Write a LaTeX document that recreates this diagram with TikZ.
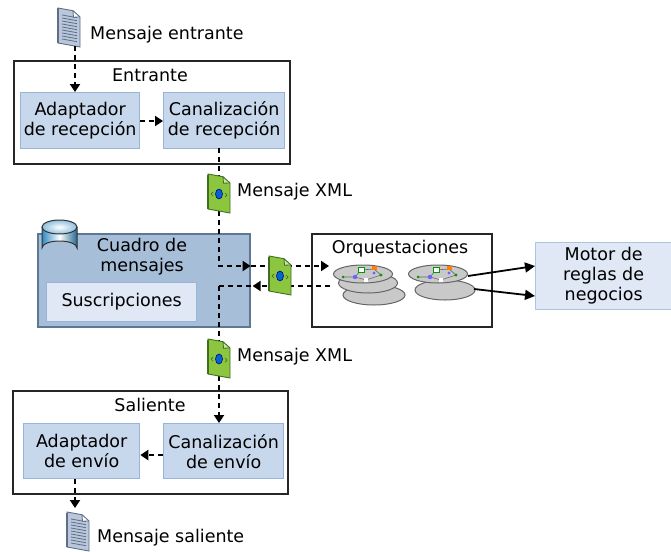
\documentclass[tikz,border=0pt]{standalone}
\usepackage{fontspec}
\setmainfont{DejaVu Sans}
\usetikzlibrary{arrows.meta,positioning}

\definecolor{partfill}{HTML}{C8D8EC}
\definecolor{partline}{HTML}{9AB3D9}
\definecolor{boxfill}{HTML}{A6BED8}
\definecolor{boxline}{HTML}{5C7896}
\definecolor{subfill}{HTML}{DFE8F4}
\definecolor{xmlgreen}{HTML}{8CC63E}
\definecolor{xmldark}{HTML}{3F6E22}
\definecolor{docblue}{HTML}{BAC7DA}
\definecolor{docline}{HTML}{5E6E88}
\definecolor{diskgray}{HTML}{C9C9C9}
\definecolor{cylblue}{HTML}{2E8BC5}

\tikzset{
  stage/.style={draw=black!85, line width=1.6pt, fill=white, anchor=north west, inner sep=0pt},
  part/.style={draw=partline, line width=1.3pt, fill=partfill, anchor=north west, inner sep=0pt, align=center},
  flow/.style={line width=2pt, dash pattern=on 5pt off 4pt, -{Triangle[length=8pt,width=10pt]}},
  flowline/.style={line width=2pt, dash pattern=on 5pt off 4pt},
  call/.style={line width=1.8pt, -{Triangle[length=10pt,width=10pt]}},
  disk/.style={draw=black!60, line width=1pt, fill=diskgray},
  % page icon, grey-blue with text lines
  pics/docpage/.style={code={
    \fill[docblue] (-11,-19) -- (4,-16.3) -- (11,-10) -- (11,20) -- (-11,16) -- cycle;
    \foreach \y in {-12,-9,...,12}
      \draw[docline, line width=0.8pt] (-7,\y) -- (8,\y+2.7);
    \fill[white] (4,-16.3) -- (4.5,-9.8) -- (11,-10) -- cycle;
    \draw[docline, line width=0.9pt] (-11,-19) -- (4,-16.3) -- (11,-10) -- (11,20) -- (-11,16) -- cycle;
    \draw[docline, line width=0.8pt] (4,-16.3) -- (4.5,-9.8) -- (11,-10);
    \draw[docline, line width=2pt] (-11,-18.5) -- (-11,16);
  }},
  % green XML page icon
  pics/xmlpage/.style={code={
    \fill[xmlgreen] (-11,-19) -- (4,-16.3) -- (11,-10) -- (11,20) -- (-11,16) -- cycle;
    \fill[xmlgreen!45!white] (4,-16.3) -- (4.5,-9.8) -- (11,-10) -- cycle;
    \draw[xmldark, line width=0.9pt] (-11,-19) -- (4,-16.3) -- (11,-10) -- (11,20) -- (-11,16) -- cycle;
    \draw[xmldark, line width=0.8pt] (4,-16.3) -- (4.5,-9.8) -- (11,-10);
    \draw[xmldark, line width=2pt] (-11,-18.5) -- (-11,16);
    \draw[blue!60!black, fill=blue!50!cyan!80!black, line width=0.6pt] (0,1) ellipse (3.5 and 5);
    \draw[xmldark, line width=0.7pt] (-6,-1) -- (-8,1) -- (-6,3);
    \draw[xmldark, line width=0.7pt] (6,0) -- (8,2) -- (6,4);
  }},
  % small workflow drawing on an orchestration disk
  pics/workflow/.style={code={
    \draw[black!60, line width=0.6pt] (-20,3) -- (-8,3) -- (-2,-4) -- (11,-5) -- (18,1);
    \draw[black!60, line width=0.6pt] (-8,3) -- (3,6) -- (18,1);
    \draw[green!60!black, fill=white, line width=0.7pt] (-5,-7) rectangle (1,-2);
    \fill[orange] (9,-8) rectangle (14,-4);
    \fill[blue!60] (-8,3) circle (2.2);
    \fill[blue!60] (11,-1) circle (1.6);
    \fill[green!60!black] (-20,3) circle (1.5);
    \fill[green!60!black] (18,1) circle (1.6);
    \fill[white] (1,4) rectangle (5,8);
  }},
}

\begin{document}
\begin{tikzpicture}[x=1pt, y=-1pt, font=\fontsize{17.5}{20}\selectfont]
  \useasboundingbox (0,0) rectangle (671,551);

  % receive side
  \node[stage, minimum width=276, minimum height=103] (inbox) at (13,60) {};
  \node (intitle) at (150,75) {Entrante};
  \node[part, minimum width=119, minimum height=56] (rxadapt) at (20,92) {Adaptador\\de recepción};
  \node[part, minimum width=121, minimum height=56] (rxpipe) at (163,92) {Canalización\\de recepción};

  % message box
  \node[anchor=north west, inner sep=0pt, minimum width=212, minimum height=93,
        draw=boxline, line width=1.6pt, fill=boxfill] (msgbox) at (37,233) {};
  \node[align=center, inner sep=0pt] (msgtitle) at (142,257) {Cuadro de\\mensajes};
  \node[anchor=north west, inner sep=0pt, minimum width=150, minimum height=39,
        draw=partline, line width=1.3pt, fill=subfill] (subs) at (46,282) {Suscripciones};

  % database cylinder
  \shade[left color=cylblue, right color=cylblue!75!black, middle color=white]
    (42,227) -- (42,248) arc (180:360:17.5 and 7) -- (77,227) -- cycle;
  \draw[black!80, line width=1pt] (42,227) -- (42,248) arc (180:360:17.5 and 7) -- (77,227);
  \shade[inner color=white, outer color=cylblue!55] (59.5,227) ellipse (17.5 and 7);
  \draw[black!80, line width=1pt] (59.5,227) ellipse (17.5 and 7);

  % orchestrations
  \node[stage, minimum width=180, minimum height=93] (orch) at (311,233) {};
  \node (orchtitle) at (400,249) {Orquestaciones};
  \draw[disk] (374,295) ellipse (31 and 10);
  \draw[disk] (368,283) ellipse (29.5 and 10);
  \draw[disk] (363,274) ellipse (29.5 and 9);
  \pic at (363,274) {workflow};
  \draw[disk] (445,290) ellipse (30 and 10);
  \draw[disk] (438,274) ellipse (29.5 and 9);
  \pic at (438,274) {workflow};
  \coordinate (orchin) at (329,266);
  \coordinate (orchout) at (330,286);
  \coordinate (rulesa) at (468,276);
  \coordinate (rulesb) at (474,289);

  % rules engine
  \node[part, draw=partline!80, fill=subfill, minimum width=136, minimum height=67] (motor) at (535,242)
    {Motor de\\reglas de\\negocios};

  % send side
  \node[stage, minimum width=275, minimum height=103] (outbox) at (12,390) {};
  \node (outtitle) at (150,405) {Saliente};
  \node[part, minimum width=116, minimum height=55] (txadapt) at (23,423) {Adaptador\\de envío};
  \node[part, minimum width=120, minimum height=55] (txpipe) at (163,423) {Canalización\\de envío};

  % message icons
  \pic (docin) at (69,27) {docpage};
  \node[anchor=west, inner sep=0pt] (docinlbl) at (90,35) {Mensaje entrante};
  \pic (docout) at (78,531) {docpage};
  \node[anchor=west, inner sep=0pt] (docoutlbl) at (97,538) {Mensaje saliente};

  % flow of the message
  \draw[flow] (75,46) -- (75,0 |- rxadapt.north);
  \draw[flow] (rxadapt.east |- 0,121) -- (rxpipe.west |- 0,121);
  \draw[flow] (219,148) -- (219,266) -- (msgbox.east |- 0,266);
  \draw[flow] (msgbox.east |- 0,266) -- (orchin);
  \draw[flow] (orchout) -- ([xshift=2pt]msgbox.east |- 0,286);
  \draw[flowline] (msgbox.east |- 0,286) -- (219,286);
  \draw[flow] (219,286) -- (219,0 |- txpipe.north);
  \draw[flow] (txpipe.west |- 0,455) -- (txadapt.east |- 0,455);
  \draw[flow] (75,0 |- txadapt.south) -- (75,508);

  \pic (xmlin) at (219,193) {xmlpage};
  \node[anchor=west, inner sep=0pt] (xmlinlbl) at (237,192) {Mensaje XML};
  \pic (xmlmid) at (280,275) {xmlpage};
  \pic (xmlout) at (219,358) {xmlpage};
  \node[anchor=west, inner sep=0pt] (xmloutlbl) at (237,357) {Mensaje XML};

  % calls to the rules engine
  \draw[call] (rulesa) -- (motor.west |- 0,266);
  \draw[call] (rulesb) -- (motor.west |- 0,296);
\end{tikzpicture}
\end{document}
